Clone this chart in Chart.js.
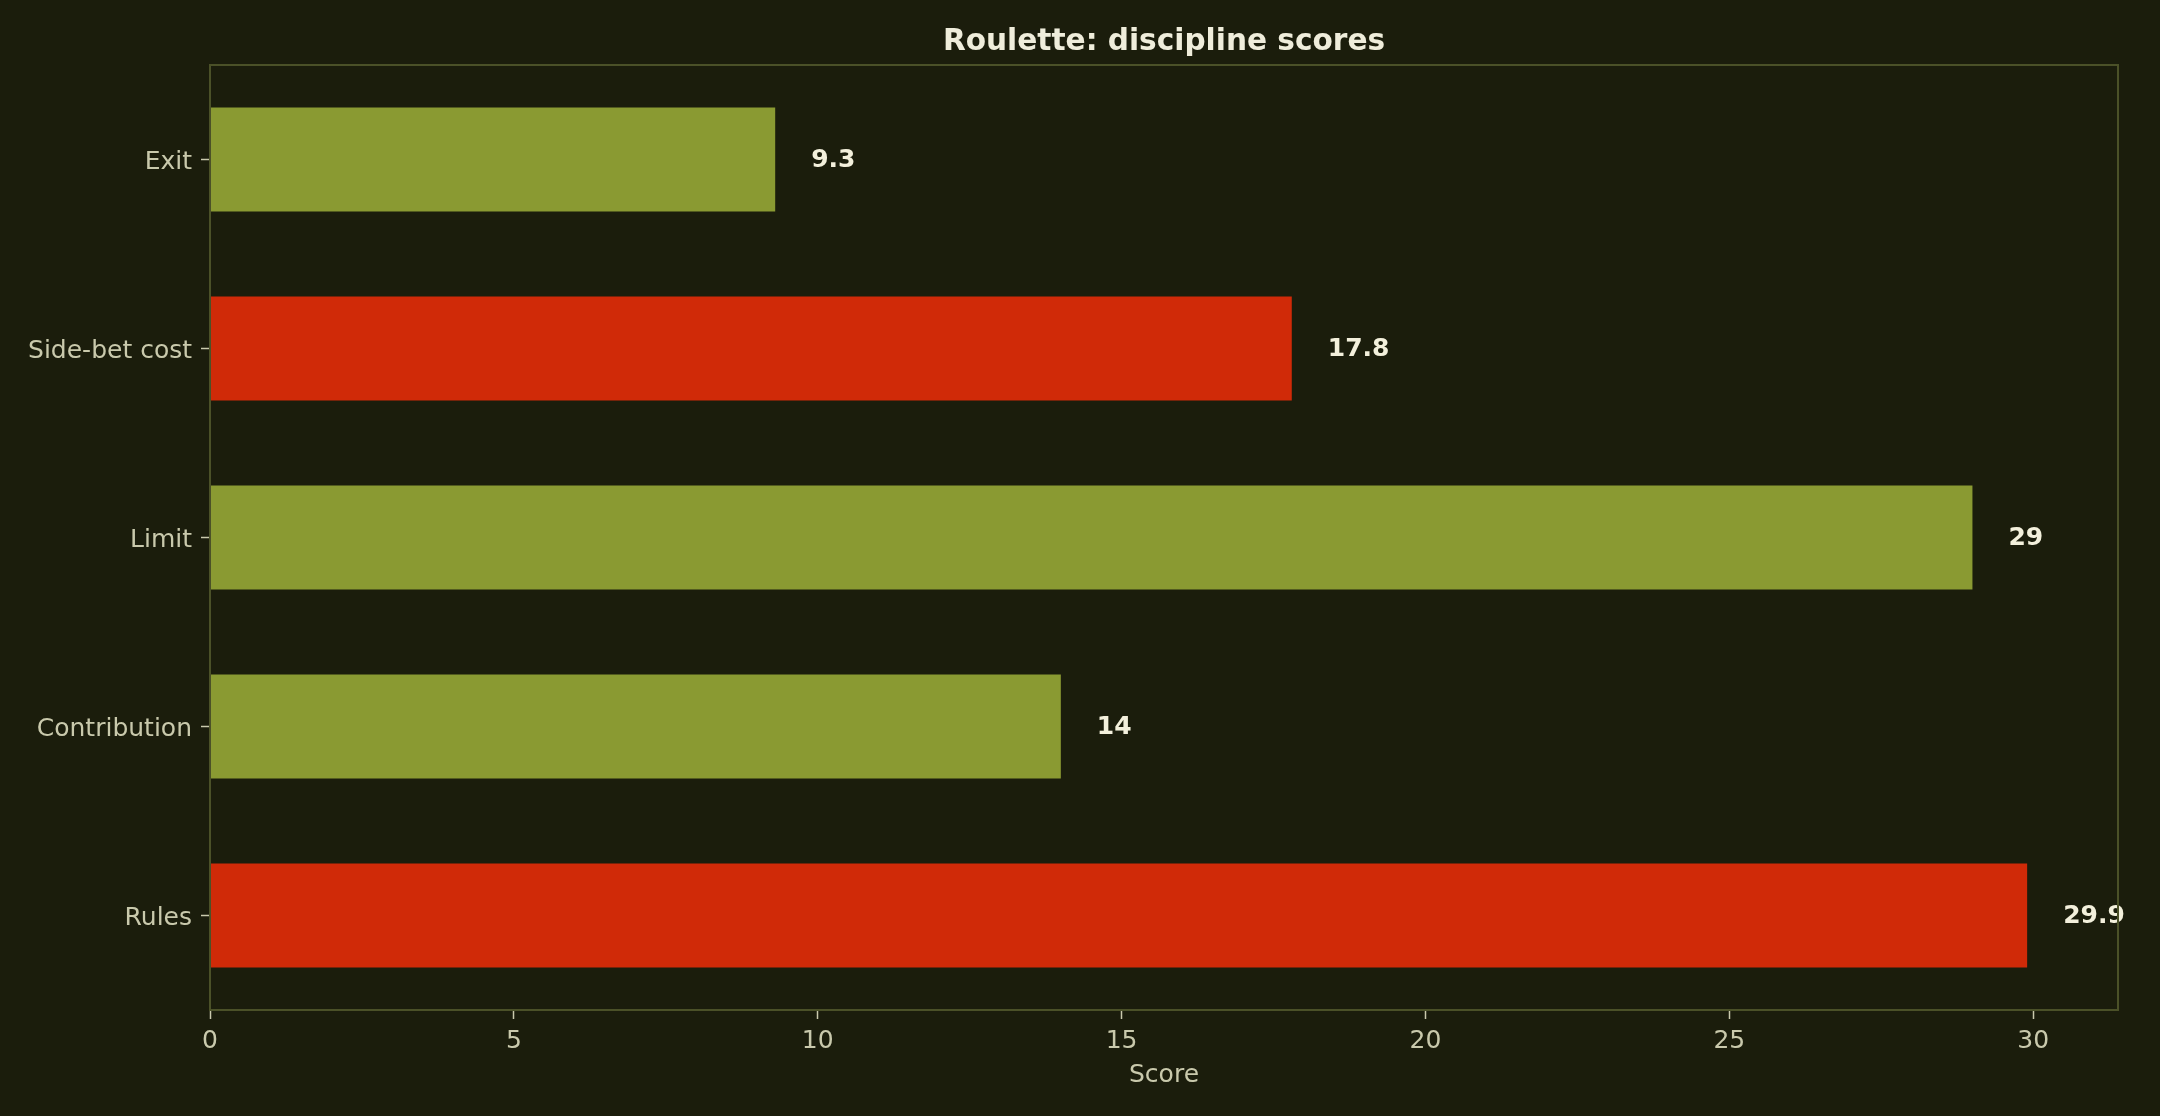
<!DOCTYPE html>
<html>
<head>
<meta charset="utf-8">
<script src="https://cdn.jsdelivr.net/npm/chart.js@4/dist/chart.umd.min.js"></script>
<style>
  html, body { margin: 0; padding: 0; background: #1b1d0c; }
  canvas { display: block; }
</style>
</head>
<body>
<canvas id="c" width="2160" height="1116"></canvas>
<script>
const categories = ['Exit', 'Side-bet cost', 'Limit', 'Contribution', 'Rules'];
const scores = [9.3, 17.8, 29, 14, 29.9];
const barColors = ['#8a9a32', '#d02a08', '#8a9a32', '#8a9a32', '#d02a08'];
const xTicks = [0, 5, 10, 15, 20, 25, 30];
const xMax = 31.395;
const chartTitle = 'Roulette: discipline scores';
const xTitle = 'Score';

const BG = '#1b1d0c';
const FRAME = '#4b5128';
const TICK_TEXT = '#c9c9ac';
const FONT = "'DejaVu Sans', sans-serif";

const bgPlugin = {
  id: 'bg',
  beforeDraw(chart) {
    const ctx = chart.ctx;
    ctx.save();
    ctx.fillStyle = BG;
    ctx.fillRect(0, 0, chart.width, chart.height);
    ctx.restore();
  },
  afterDraw(chart) {
    const {ctx, chartArea: a} = chart;
    ctx.save();
    ctx.strokeStyle = FRAME;
    ctx.lineWidth = 2;
    ctx.strokeRect(a.left, a.top, a.right - a.left, a.bottom - a.top);
    // title centred over the plot area
    ctx.fillStyle = '#efeddb';
    ctx.font = "bold 29.6px " + FONT;
    ctx.textAlign = 'center';
    ctx.textBaseline = 'alphabetic';
    ctx.fillText(chartTitle, (a.left + a.right) / 2, a.top - 15);
    ctx.restore();
  }
};

const valueLabels = {
  id: 'valueLabels',
  afterDatasetsDraw(chart) {
    const ctx = chart.ctx;
    const meta = chart.getDatasetMeta(0);
    ctx.save();
    ctx.fillStyle = '#f3f0dc';
    ctx.font = "bold 25px " + FONT;
    ctx.textAlign = 'left';
    ctx.textBaseline = 'middle';
    meta.data.forEach((bar, i) => {
      ctx.fillText(String(scores[i]), bar.x + 36, bar.y + 1);
    });
    ctx.restore();
  }
};

new Chart(document.getElementById('c'), {
  type: 'bar',
  data: {
    labels: categories,
    datasets: [{
      data: scores,
      backgroundColor: barColors,
      borderWidth: 0,
      barPercentage: 0.55,
      categoryPercentage: 1.0
    }]
  },
  options: {
    indexAxis: 'y',
    responsive: false,
    animation: false,
    devicePixelRatio: 1,
    layout: { padding: { top: 65, right: 42, left: 0, bottom: 0 } },
    plugins: {
      legend: { display: false },
      title: { display: false },
      tooltip: { enabled: false }
    },
    scales: {
      x: {
        type: 'linear',
        min: 0,
        max: xMax,
        afterFit(scale) { scale.height = 106; },
        afterBuildTicks(scale) { scale.ticks = xTicks.map(v => ({ value: v })); },
        border: { display: false },
        grid: {
          drawOnChartArea: false,
          drawTicks: true,
          tickLength: 9,
          tickColor: TICK_TEXT,
          tickWidth: 1.5
        },
        ticks: {
          includeBounds: false,
          stepSize: 5,
          padding: 7,
          color: TICK_TEXT,
          font: { family: FONT, size: 25 }
        },
        title: {
          display: true,
          text: xTitle,
          color: TICK_TEXT,
          font: { family: FONT, size: 25 },
          padding: { top: 0, bottom: 26 }
        }
      },
      y: {
        type: 'category',
        offset: true,
        afterFit(scale) { scale.width = 210; },
        border: { display: false },
        grid: {
          offset: false,
          drawOnChartArea: false,
          drawTicks: true,
          tickLength: 9,
          tickColor: TICK_TEXT,
          tickWidth: 1.5
        },
        ticks: {
          padding: 9,
          labelOffset: 3,
          color: TICK_TEXT,
          font: { family: FONT, size: 25 }
        }
      }
    }
  },
  plugins: [bgPlugin, valueLabels]
});
</script>
</body>
</html>
